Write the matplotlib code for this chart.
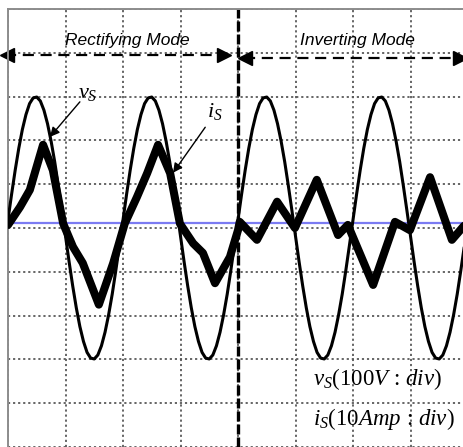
import matplotlib
matplotlib.use("Agg")
import matplotlib.pyplot as plt

plt.rcParams['mathtext.fontset'] = 'custom'
plt.rcParams['mathtext.rm'] = 'Liberation Serif'
plt.rcParams['mathtext.it'] = 'Liberation Serif:italic'

# time in ms (10 ms per division), amplitude in divisions
vs_t = [k * 0.625 for k in range(129)]
vs = [0.19, 0.77, 1.32, 1.82, 2.25, 2.59, 2.84, 2.97, 2.99, 2.90, 2.69, 2.38, 1.98, 1.51, 0.97, 0.40,
      -0.19, -0.77, -1.32, -1.82, -2.25, -2.59, -2.84, -2.97, -2.99, -2.90, -2.69, -2.38, -1.98, -1.51, -0.97, -0.40,
      0.19, 0.77, 1.32, 1.82, 2.25, 2.59, 2.84, 2.97, 2.99, 2.90, 2.69, 2.38, 1.98, 1.51, 0.97, 0.40,
      -0.19, -0.77, -1.32, -1.82, -2.25, -2.59, -2.84, -2.97, -2.99, -2.90, -2.69, -2.38, -1.98, -1.51, -0.97, -0.40,
      0.19, 0.77, 1.32, 1.82, 2.25, 2.59, 2.84, 2.97, 2.99, 2.90, 2.69, 2.38, 1.98, 1.51, 0.97, 0.40,
      -0.19, -0.77, -1.32, -1.82, -2.25, -2.59, -2.84, -2.97, -2.99, -2.90, -2.69, -2.38, -1.98, -1.51, -0.97, -0.40,
      0.19, 0.77, 1.32, 1.82, 2.25, 2.59, 2.84, 2.97, 2.99, 2.90, 2.69, 2.38, 1.98, 1.51, 0.97, 0.40,
      -0.19, -0.77, -1.32, -1.82, -2.25, -2.59, -2.84, -2.97, -2.99, -2.90, -2.69, -2.38, -1.98, -1.51, -0.97, -0.40,
      0.19]

is_t = [0.0, 2.1, 3.8, 6.1, 7.8, 9.6, 11.3, 13.0, 15.8, 18.3, 20.3, 22.4, 24.2,
        26.1, 28.2, 29.9, 32.2, 33.9, 36.0, 38.6, 40.0,
        40.3, 43.3, 46.8, 49.9, 53.7, 57.4, 59.1, 63.5, 67.3, 69.9, 73.4, 77.2, 79.3]
is_ = [0.07, 0.48, 0.87, 1.9, 1.32, 0.1, -0.43, -0.8, -1.75, -0.8, 0.1, 0.7, 1.25,
       1.9, 1.25, 0.1, -0.35, -0.57, -1.26, -0.66, -0.05,
       0.14, -0.27, 0.6, 0.0, 1.1, -0.16, 0.07, -1.3, 0.14, -0.05, 1.16, -0.27, 0.05]

mode_labels = ['Rectifying Mode', 'Inverting Mode']
mode_switch = 40.0

fig = plt.figure(figsize=(4.64, 4.47), dpi=100)
ax = fig.add_axes([8 / 464, 0, 460 / 464, 438 / 447])
ax.set_xlim(0, 80)
ax.set_ylim(-5, 5)
ax.set_xticks(range(0, 81, 10))
ax.set_yticks(range(-5, 6))
ax.tick_params(length=0, labelbottom=False, labelleft=False)
ax.grid(True, color='0.35', linestyle=(0, (1.2, 1.6)), linewidth=1.3)
ax.set_axisbelow(True)
for side in ['right', 'bottom']:
    ax.spines[side].set_visible(False)
for side in ['left', 'top']:
    ax.spines[side].set_color('0.55')
    ax.spines[side].set_linewidth(1.4)

ax.axhline(0.11, color='#7b7bf2', linewidth=1.6, zorder=1.5)
ax.axvline(mode_switch, color='black', linewidth=2.4, linestyle=(0, (3.0, 0.9)), zorder=2)

ax.plot(vs_t, vs, color='black', linewidth=2.2, solid_joinstyle='round', zorder=3)
ax.plot(is_t, is_, color='black', linewidth=5.8, solid_joinstyle='round',
        solid_capstyle='round', zorder=4)

# mode arrows
ax.plot([-0.5, 37.5], [3.95, 3.95], color='black', linewidth=1.6,
        linestyle=(0, (5, 3)), clip_on=False)
ax.plot([-0.2], [3.95], marker='<', color='black', markersize=10, clip_on=False)
ax.plot([37.6], [3.95], marker='>', color='black', markersize=10, clip_on=False)
ax.plot([41.0, 78.5], [3.88, 3.88], color='black', linewidth=1.6,
        linestyle=(0, (5, 3)), clip_on=False)
ax.plot([41.3], [3.88], marker='<', color='black', markersize=10, clip_on=False)
ax.plot([78.6], [3.88], marker='>', color='black', markersize=10, clip_on=False)

ax.text(20.7, 4.27, mode_labels[0], ha='center', va='center', fontsize=12.5,
        style='italic', family='Liberation Sans')
ax.text(60.7, 4.27, mode_labels[1], ha='center', va='center', fontsize=12.5,
        style='italic', family='Liberation Sans')

# waveform labels with pointers
ax.text(12.2, 2.97, r'$v_S$', fontsize=16, ha='left', va='baseline')
ax.annotate('', xy=(7.3, 2.08), xytext=(12.5, 2.88),
            arrowprops=dict(arrowstyle='-|>', color='black', lw=1.0,
                            mutation_scale=14, shrinkA=0, shrinkB=0))
ax.text(34.6, 2.53, r'$i_S$', fontsize=16, ha='left', va='baseline')
ax.annotate('', xy=(28.7, 1.26), xytext=(34.3, 2.3),
            arrowprops=dict(arrowstyle='-|>', color='black', lw=1.0,
                            mutation_scale=14, shrinkA=0, shrinkB=0))

ax.text(53.0, -3.58, r'$v_S$(100$V$ : $div$)', fontsize=16.5, family='Liberation Serif',
        ha='left', va='baseline')
ax.text(53.0, -4.49, r'$i_S$(10$Amp$ : $div$)', fontsize=16.5, family='Liberation Serif',
        ha='left', va='baseline')

fig.savefig('out.png', dpi=100)
